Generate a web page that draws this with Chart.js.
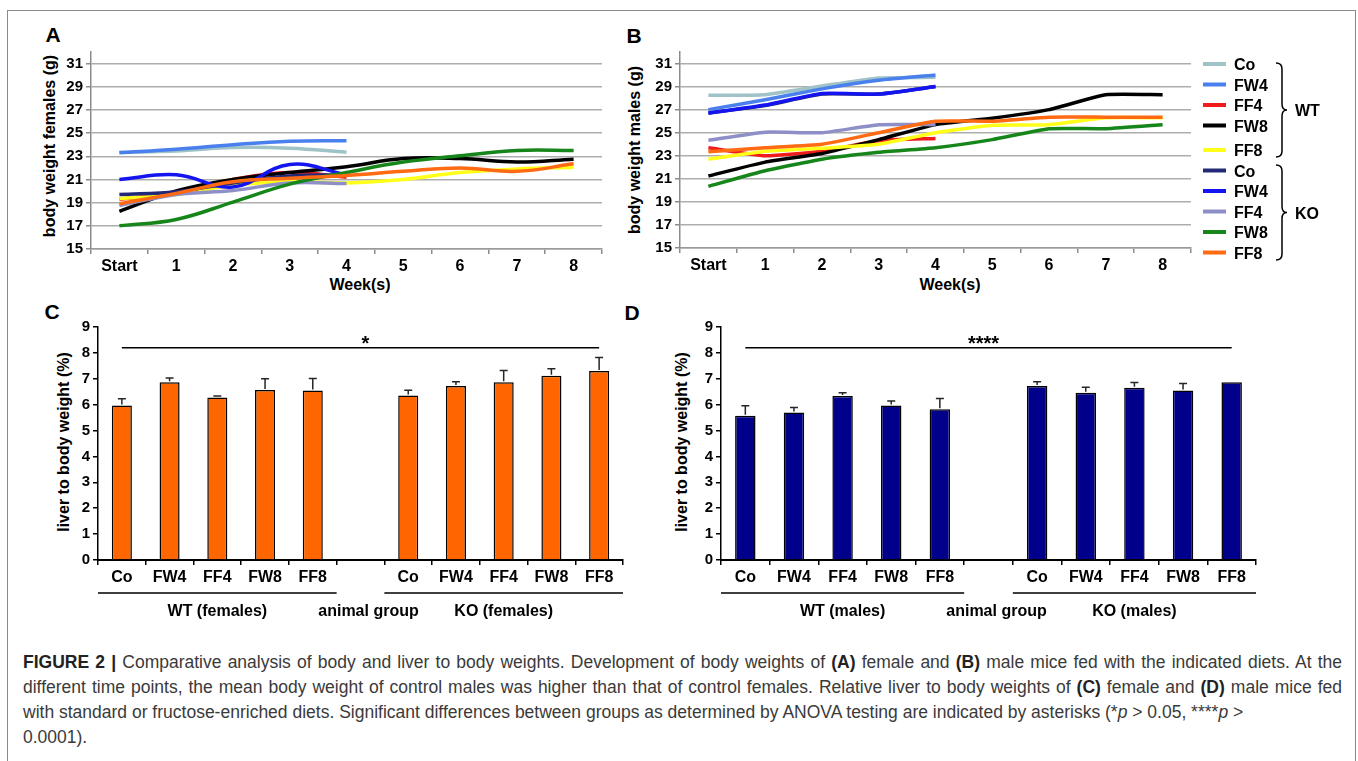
<!DOCTYPE html>
<html>
<head>
<meta charset="utf-8">
<script src="https://cdn.jsdelivr.net/npm/chart.js@4.4.0/dist/chart.umd.min.js"></script>
<style>
  html, body { margin: 0; padding: 0; background: #fff; }
  body { width: 1358px; height: 761px; position: relative; overflow: hidden;
         font-family: 'Liberation Sans', Arial, sans-serif; }
  .frame { position: absolute; left: 7px; top: 10px; width: 1347px; height: 800px;
           border: 1px solid #8a8a8a; border-bottom: none; }
  canvas { position: absolute; }
  .lbl { position: absolute; font-weight: bold; color: #000; line-height: 1;
         transform: translate(-50%, -50%); white-space: nowrap; }
  .letter { font-size: 21px; }
  .title { font-size: 16px; }
  .rot { transform: translate(-50%, -50%) rotate(-90deg); }
  .caption { position: absolute; left: 23px; top: 650px; width: 1319px; font-size: 17.5px;
             line-height: 25px; color: #3a3a3a; }
  .caption div { white-space: nowrap; }
  .caption b { color: #222; }
</style>
</head>
<body>
<div class="frame"></div>

<div class="lbl letter" style="left:53px;top:34px">A</div>
<div class="lbl letter" style="left:634px;top:35px">B</div>
<div class="lbl letter" style="left:52px;top:311px">C</div>
<div class="lbl letter" style="left:632px;top:312px">D</div>

<div class="lbl title rot" style="left:50px;top:146px">body weight females (g)</div>
<div class="lbl title rot" style="left:635px;top:150px">body weight males (g)</div>
<div class="lbl title" style="left:360px;top:285px">Week(s)</div>
<div class="lbl title" style="left:950px;top:285px">Week(s)</div>
<div class="lbl title rot" style="left:64px;top:442px">liver to body weight (%)</div>
<div class="lbl title rot" style="left:682px;top:442px">liver to body weight (%)</div>

<canvas id="chartA" width="560" height="245" style="left:56px;top:40px"></canvas>
<canvas id="chartB" width="570" height="245" style="left:635px;top:40px"></canvas>
<canvas id="chartC" width="590" height="315" style="left:50px;top:315px"></canvas>
<canvas id="chartD" width="600" height="315" style="left:670px;top:315px"></canvas>

<svg id="legend" width="160" height="230" style="position:absolute;left:1195px;top:45px"></svg>

<div class="caption" id="caption">
  <div class="just"><b>FIGURE 2 |</b> Comparative analysis of body and liver to body weights. Development of body weights of <b>(A)</b> female and <b>(B)</b> male mice fed with the indicated diets. At the</div>
  <div class="just">different time points, the mean body weight of control males was higher than that of control females. Relative liver to body weights of <b>(C)</b> female and <b>(D)</b> male mice fed</div>
  <div>with standard or fructose-enriched diets. Significant differences between groups as determined by ANOVA testing are indicated by asterisks (*<i>p</i> &gt; 0.05, ****<i>p</i> &gt;</div>
  <div>0.0001).</div>
</div>

<script>
// --- Data: body weight curves (A, B) ---
const weeks = ['Start', '1', '2', '3', '4', '5', '6', '7', '8'];
const weightTicks = [15, 17, 19, 21, 23, 25, 27, 29, 31];
const seriesNames = ['Co', 'FW4', 'FF4', 'FW8', 'FF8', 'Co', 'FW4', 'FF4', 'FW8', 'FF8'];
const seriesColors = ['#9fc3c7', '#4a80ee', '#f01c1c', '#000000', '#ffff1a',
                      '#222a78', '#1414f0', '#8d8fc6', '#16861a', '#ff6a12'];

// females
const wtCoF  = [23.35, 23.45, 23.75, 23.7, 23.35];
const wtFW4F = [23.3, 23.6, 24.0, 24.3, 24.35];
const wtFF4F = [19.3, 19.9, 21.0, 21.6, 21.2];
const wtFW8F = [18.25, 20.0, 21.0, 21.6, 22.1, 22.8, 22.8, 22.5, 22.75];
const wtFF8F = [19.35, 19.7, 20.5, 20.8, 20.7, 21.0, 21.6, 21.9, 22.05];
const koCoF  = [19.7, 19.95, 20.7, 21.3, 21.4];
const koFW4F = [21.0, 21.4, 20.35, 22.3, 21.4];
const koFF4F = [18.75, 19.7, 20.05, 20.7, 20.65];
const koFW8F = [17.0, 17.55, 19.05, 20.6, 21.6, 22.5, 23.05, 23.5, 23.5];
const koFF8F = [18.9, 19.8, 20.8, 21.1, 21.35, 21.7, 22.0, 21.7, 22.35];

// males
const wtCoM  = [28.25, 28.3, 29.05, 29.75, 29.8];
const wtFW4M = [27.0, 27.85, 28.8, 29.55, 30.0];
const wtFF4M = [23.7, 23.0, 23.4, 24.3, 24.5];
const wtFW8M = [21.25, 22.45, 23.2, 24.4, 25.7, 26.25, 27.0, 28.3, 28.3];
const wtFF8M = [22.7, 23.4, 23.65, 24.0, 25.0, 25.65, 25.7, 26.3, 26.3];
const koCoM  = [26.7, 27.35, 28.35, 28.35, 29.0];
const koFW4M = [26.7, 27.4, 28.4, 28.35, 29.0];
const koFF4M = [24.35, 25.05, 25.0, 25.7, 25.7];
const koFW8M = [20.35, 21.7, 22.7, 23.3, 23.7, 24.4, 25.35, 25.35, 25.7];
const koFF8M = [23.35, 23.7, 24.0, 25.0, 26.0, 26.0, 26.35, 26.35, 26.35];

// --- Data: liver to body weight (C, D) ---
const barLabels = ['Co', 'FW4', 'FF4', 'FW8', 'FF8', '', 'Co', 'FW4', 'FF4', 'FW8', 'FF8'];
const liverTicks = [0, 1, 2, 3, 4, 5, 6, 7, 8, 9];
const liverWtF  = [5.97, 6.87, 6.28, 6.57, 6.55];
const liverKoF  = [6.35, 6.72, 6.87, 7.12, 7.3];
const semWtF    = [0.26, 0.16, 0.05, 0.43, 0.46];
const semKoF    = [0.21, 0.17, 0.45, 0.27, 0.52];
const liverWtM  = [5.57, 5.7, 6.33, 5.97, 5.82];
const liverKoM  = [6.72, 6.46, 6.65, 6.55, 6.87];
const semWtM    = [0.39, 0.19, 0.13, 0.17, 0.42];
const semKoM    = [0.17, 0.21, 0.21, 0.27, 0.0];
const sigLevel  = 8.2;
const groupsF   = ['WT (females)', 'animal group', 'KO (females)'];
const groupsM   = ['WT (males)', 'animal group', 'KO (males)'];

// --- Defaults ---
Chart.defaults.font.family = "'Liberation Sans', Arial, sans-serif";
Chart.defaults.font.weight = 'bold';
Chart.defaults.color = '#000';
Chart.defaults.animation = false;

// --- Line charts ---
function lineSets(series, tension) {
    return series.map((d, i) => ({
        label: seriesNames[i],
        data: d,
        borderColor: seriesColors[i],
        backgroundColor: seriesColors[i],
        borderWidth: 3.5,
        pointRadius: 0,
        tension: tension,
        fill: false,
        borderCapStyle: 'butt',
        order: series.length - 1 - i   // later series on top, like the original
    }));
}

function weightChart(id, series, yWidth, xHeight, pad, tension) {
    return new Chart(document.getElementById(id), {
        type: 'line',
        data: { labels: weeks, datasets: lineSets(series, tension) },
        options: {
            responsive: false,
            devicePixelRatio: 1,
            layout: { padding: pad },
            plugins: { legend: { display: false }, tooltip: { enabled: false } },
            scales: {
                x: {
                    offset: true,
                    afterFit: s => { s.height = xHeight; },
                    grid: { drawOnChartArea: false, offset: true, tickLength: 5, color: '#8c8c8c', lineWidth: 1.5 },
                    border: { color: '#9a9a9a', width: 1.5 },
                    ticks: { font: { size: 16, weight: 'bold' }, padding: 3, maxRotation: 0, autoSkip: false }
                },
                y: {
                    min: 15, max: 32,
                    afterBuildTicks: s => { s.ticks = weightTicks.map(v => ({ value: v })); },
                    afterFit: s => { s.width = yWidth; },
                    grid: { color: '#adadad', lineWidth: 1.5, tickLength: 5, tickColor: '#8c8c8c' },
                    border: { color: '#8c8c8c', width: 1.5 },
                    ticks: { font: { size: 15, weight: 'bold' }, padding: 3 }
                }
            }
        }
    });
}

weightChart('chartA', [wtCoF, wtFW4F, wtFF4F, wtFW8F, wtFF8F, koCoF, koFW4F, koFF4F, koFW8F, koFF8F],
            35, 36, { top: 11, right: 14 }, 0.4);
weightChart('chartB', [wtCoM, wtFW4M, wtFF4M, wtFW8M, wtFF8M, koCoM, koFW4M, koFF4M, koFW8M, koFF8M],
            45, 37, { top: 10, right: 14 }, 0.15);

// --- Bar charts ---
const barExtras = {
    id: 'barExtras',
    afterDatasetsDraw(chart, args, opts) {
        const { ctx, chartArea, scales: { x, y } } = chart;
        const meta = chart.getDatasetMeta(0);
        const vals = chart.data.datasets[0].data;
        const sem = opts.sem;
        ctx.save();
        // error bars (upper only)
        ctx.strokeStyle = '#262626';
        ctx.lineWidth = 1.5;
        for (let i = 0; i < vals.length; i++) {
            if (vals[i] == null || !sem[i]) continue;
            const px = meta.data[i].x;
            const top = y.getPixelForValue(vals[i] + sem[i]);
            ctx.beginPath();
            ctx.moveTo(px, y.getPixelForValue(vals[i]) - 1);
            ctx.lineTo(px, top);
            ctx.moveTo(px - 4, top);
            ctx.lineTo(px + 4, top);
            ctx.stroke();
        }
        // significance bar
        const x0 = meta.data[0].x, x1 = meta.data[vals.length - 1].x;
        const sy = y.getPixelForValue(sigLevel);
        ctx.strokeStyle = '#000';
        ctx.beginPath();
        ctx.moveTo(x0, sy);
        ctx.lineTo(x1, sy);
        ctx.stroke();
        ctx.fillStyle = '#000';
        ctx.font = "bold 20px 'Liberation Sans', Arial, sans-serif";
        ctx.textAlign = 'center';
        ctx.textBaseline = 'alphabetic';
        ctx.fillText(opts.stars, (x0 + x1) / 2 + opts.starShift, sy + 2);
        // group underlines and labels
        const w = (chartArea.right - chartArea.left) / vals.length;
        const ly = chartArea.bottom + 33;
        ctx.lineWidth = 1.5;
        ctx.beginPath();
        ctx.moveTo(chartArea.left, ly);
        ctx.lineTo(chartArea.left + 5 * w, ly);
        ctx.moveTo(chartArea.left + 6 * w, ly);
        ctx.lineTo(chartArea.right, ly);
        ctx.stroke();
        ctx.font = "bold 16px 'Liberation Sans', Arial, sans-serif";
        ctx.textBaseline = 'middle';
        const gx = [2.5 * w, 5.5 * w + 8, 8.5 * w];
        opts.groups.forEach((g, i) => ctx.fillText(g, chartArea.left + gx[i], ly + 19));
        ctx.restore();
    }
};

function liverChart(id, wt, ko, semWt, semKo, color, groups, stars, starShift, yWidth, pad) {
    return new Chart(document.getElementById(id), {
        type: 'bar',
        data: {
            labels: barLabels,
            datasets: [{
                data: [...wt, null, ...ko],
                backgroundColor: color,
                borderColor: '#000',
                borderWidth: 1.5,
                barPercentage: 0.42,
                categoryPercentage: 1
            }]
        },
        plugins: [barExtras],
        options: {
            responsive: false,
            devicePixelRatio: 1,
            layout: { padding: pad },
            plugins: {
                legend: { display: false }, tooltip: { enabled: false },
                barExtras: { sem: [...semWt, 0, ...semKo], groups: groups, stars: stars, starShift: starShift }
            },
            scales: {
                x: {
                    afterFit: s => { s.height = 70; },
                    grid: { drawOnChartArea: false, offset: true, tickLength: 5, color: '#000', lineWidth: 1.5 },
                    border: { color: '#000', width: 2 },
                    ticks: { font: { size: 16, weight: 'bold' }, padding: 3, maxRotation: 0, autoSkip: false }
                },
                y: {
                    min: 0, max: 9,
                    afterBuildTicks: s => { s.ticks = liverTicks.map(v => ({ value: v })); },
                    afterFit: s => { s.width = yWidth; },
                    grid: { drawOnChartArea: false, tickLength: 5, color: '#000', lineWidth: 1.5 },
                    border: { color: '#000', width: 1.5 },
                    ticks: { font: { size: 15, weight: 'bold' }, padding: 3 }
                }
            }
        }
    });
}

liverChart('chartC', liverWtF, liverKoF, semWtF, semKoF, '#ff6600', groupsF, '*', 5, 48, { top: 11, right: 17 });
liverChart('chartD', liverWtM, liverKoM, semWtM, semKoM, '#00008b', groupsM, '****', -5, 51, { top: 11, right: 14 });

// --- Shared legend with WT / KO braces ---
(function drawLegend() {
    const svg = document.getElementById('legend');
    const ox = 1195, oy = 45;
    let html = '';
    seriesNames.forEach((name, i) => {
        const yy = 64 + i * 20.5 + (i >= 4 ? 4 : 0) - oy;
        html += `<line x1="${1203 - ox}" x2="${1226 - ox}" y1="${yy}" y2="${yy}" stroke="${seriesColors[i]}" stroke-width="4"/>`;
        html += `<text x="${1234 - ox}" y="${yy + 6}" font-size="16" font-weight="bold" font-family="Liberation Sans, Arial, sans-serif">${name}</text>`;
    });
    const brace = (t, b) => {
        const m = (t + b) / 2, xs = 1276 - ox, xm = 1282 - ox, xt = 1287 - ox;
        return `<path d="M${xs} ${t} Q${xm} ${t} ${xm} ${t + 6} L${xm} ${m - 6} Q${xm} ${m} ${xt} ${m} Q${xm} ${m} ${xm} ${m + 6} L${xm} ${b - 6} Q${xm} ${b} ${xs} ${b}" fill="none" stroke="#000" stroke-width="1.5"/>`;
    };
    html += brace(63 - oy, 157 - oy) + brace(165 - oy, 260 - oy);
    html += `<text x="${1295 - ox}" y="${110 - oy + 6}" font-size="16" font-weight="bold" font-family="Liberation Sans, Arial, sans-serif">WT</text>`;
    html += `<text x="${1295 - ox}" y="${213 - oy + 6}" font-size="16" font-weight="bold" font-family="Liberation Sans, Arial, sans-serif">KO</text>`;
    svg.innerHTML = html;
})();

// --- Caption: stretch the first two lines to the full width ---
document.querySelectorAll('#caption .just').forEach(el => {
    el.style.display = 'inline-block';
    const natural = el.getBoundingClientRect().width;
    const spaces = (el.textContent.match(/ /g) || []).length;
    el.style.display = 'block';
    if (spaces) el.style.wordSpacing = ((1319 - natural) / spaces) + 'px';
});
</script>
</body>
</html>
